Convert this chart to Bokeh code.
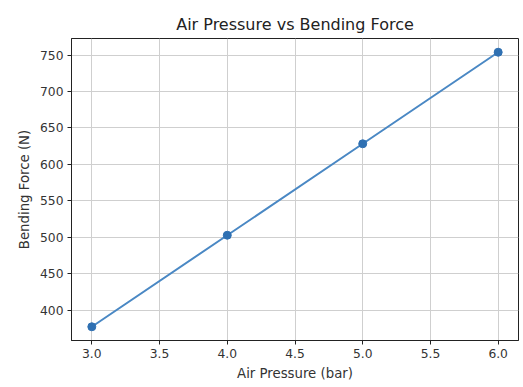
from bokeh.plotting import figure
from bokeh.models import Range1d, FixedTicker, NumeralTickFormatter
from bokeh.embed import file_html
from bokeh.resources import INLINE

pressure = [3.0, 4.0, 5.0, 6.0]
force = [377.0, 502.7, 628.3, 754.0]
x_ticks = [3.0, 3.5, 4.0, 4.5, 5.0, 5.5, 6.0]
y_ticks = [400, 450, 500, 550, 600, 650, 700, 750]

title = "Air Pressure vs Bending Force"
x_label = "Air Pressure (bar)"
y_label = "Bending Force (N)"

xspan = max(pressure) - min(pressure)
yspan = max(force) - min(force)
xr = Range1d(min(pressure) - 0.05 * xspan, max(pressure) + 0.05 * xspan)
yr = Range1d(min(force) - 0.05 * yspan, max(force) + 0.05 * yspan)

p = figure(output_backend="svg", toolbar_location=None,
           frame_width=447, frame_height=302,
           min_border_left=71, min_border_right=5,
           min_border_top=38, min_border_bottom=44,
           x_range=xr, y_range=yr, title=title)

p.title.align = "center"
p.title.text_font = "DejaVu Sans"
p.title.text_font_size = "16px"
p.title.text_font_style = "normal"
p.title.text_color = "#222222"
p.title.offset = 0
p.title.standoff = 9

p.background_fill_color = "white"
p.border_fill_color = "white"
p.outline_line_color = "#222222"
p.outline_line_width = 1

p.xaxis.ticker = FixedTicker(ticks=x_ticks)
p.yaxis.ticker = FixedTicker(ticks=y_ticks)
p.xaxis.formatter = NumeralTickFormatter(format="0.0")
p.xaxis.axis_label = x_label
p.yaxis.axis_label = y_label

for ax in (p.xaxis[0], p.yaxis[0]):
    ax.axis_line_color = "#222222"
    ax.major_tick_line_color = "#222222"
    ax.major_tick_out = 4
    ax.major_tick_in = 0
    ax.minor_tick_line_color = None
    ax.major_label_text_font = "DejaVu Sans"
    ax.major_label_text_font_size = "12.3px"
    ax.major_label_text_color = "#333333"
    ax.axis_label_text_font = "DejaVu Sans"
    ax.axis_label_text_font_size = "13.3px"
    ax.axis_label_text_font_style = "normal"
    ax.axis_label_text_color = "#333333"
    ax.major_label_standoff = 4
    ax.axis_label_standoff = 5

p.xgrid.ticker = FixedTicker(ticks=x_ticks)
p.ygrid.ticker = FixedTicker(ticks=y_ticks)
p.grid.grid_line_color = "#cfcfcf"
p.grid.grid_line_width = 1

p.line(pressure, force, line_color="#4a88c4", line_width=2)
p.scatter(pressure, force, size=8, fill_color="#2f70b2", line_color="#2f70b2")

open("out.html", "w").write(file_html(p, INLINE))
